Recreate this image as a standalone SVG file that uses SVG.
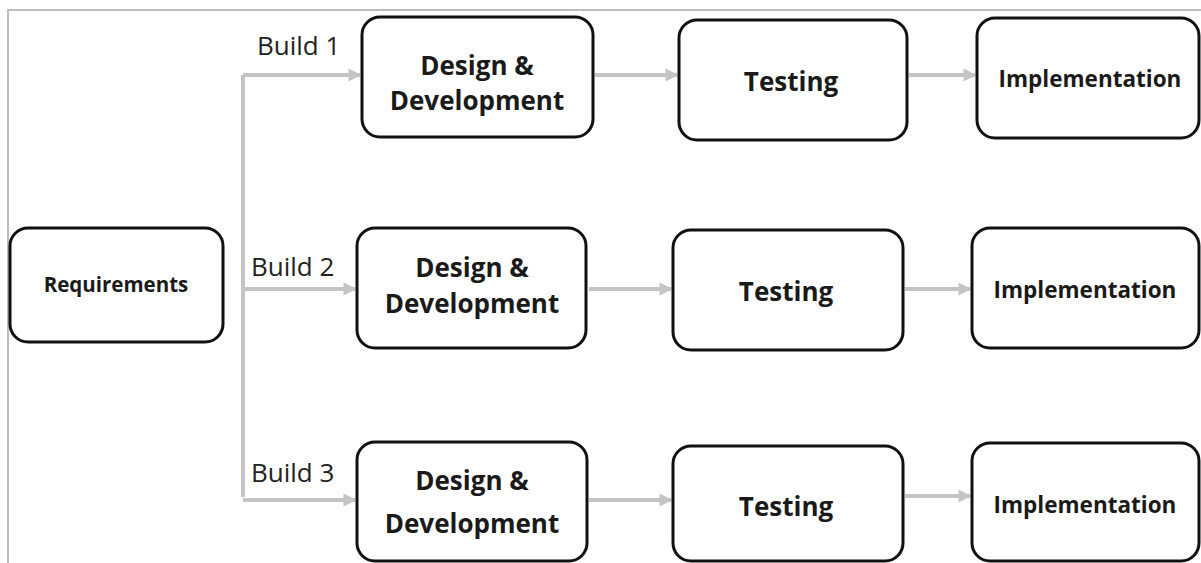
<svg xmlns="http://www.w3.org/2000/svg" width="1201" height="563" viewBox="0 0 1201 563">
<style>
.box{fill:#fff;stroke:#111;stroke-width:3}
.t{font-family:"Open Sans","Liberation Sans",sans-serif;font-weight:700;fill:#1a1a1a;text-anchor:middle}
.b{font-family:"Open Sans","Liberation Sans",sans-serif;font-weight:400;fill:#222;font-size:26px}
.c{fill:none;stroke:#c4c4c4;stroke-width:4}
</style>
<defs>
<marker id="ah" viewBox="0 0 10 10" refX="9" refY="5" markerWidth="3.2" markerHeight="3.6" orient="auto" markerUnits="strokeWidth">
<path d="M0,0 L10,5 L0,10 z" fill="#c4c4c4"/>
</marker>
</defs>
<rect x="0" y="0" width="1201" height="563" fill="#fff"/>
<path d="M8,563 V10 H1201" fill="none" stroke="#bdbdbd" stroke-width="2"/>
<g id="connectors">
<path class="c" d="M243,497 V75"/>
<path class="c" d="M243,75 H360" marker-end="url(#ah)"/>
<path class="c" d="M243,289 H355" marker-end="url(#ah)"/>
<path class="c" d="M243,500 H355" marker-end="url(#ah)"/>
<path class="c" d="M595,75 H677" marker-end="url(#ah)"/>
<path class="c" d="M909,75 H975" marker-end="url(#ah)"/>
<path class="c" d="M589,289 H671" marker-end="url(#ah)"/>
<path class="c" d="M905,289 H970" marker-end="url(#ah)"/>
<path class="c" d="M589,500 H671" marker-end="url(#ah)"/>
<path class="c" d="M905,496 H970" marker-end="url(#ah)"/>
</g>
<g id="labels">
<text class="b" x="257" y="55">Build 1</text>
<text class="b" x="251" y="276">Build 2</text>
<text class="b" x="251" y="482">Build 3</text>
</g>
<g id="requirements">
<rect class="box" x="10" y="228" width="213" height="114" rx="18"/>
<text class="t" x="116" y="292" font-size="20.5">Requirements</text>
</g>
<g id="design1">
<rect class="box" x="362" y="17" width="231" height="120" rx="18"/>
<text class="t" x="477" y="75" font-size="26">Design &amp;</text>
<text class="t" x="477" y="110" font-size="26">Development</text>
</g>
<g id="testing1">
<rect class="box" x="679" y="20" width="228" height="120" rx="18"/>
<text class="t" x="791" y="91" font-size="26">Testing</text>
</g>
<g id="impl1">
<rect class="box" x="977" y="18" width="222" height="120" rx="18"/>
<text class="t" x="1090" y="87" font-size="22.5">Implementation</text>
</g>
<g id="design2">
<rect class="box" x="357" y="228" width="229" height="120" rx="18"/>
<text class="t" x="472" y="277" font-size="26">Design &amp;</text>
<text class="t" x="472" y="313" font-size="26">Development</text>
</g>
<g id="testing2">
<rect class="box" x="673" y="230" width="230" height="120" rx="18"/>
<text class="t" x="786" y="301" font-size="26">Testing</text>
</g>
<g id="impl2">
<rect class="box" x="972" y="228" width="227" height="120" rx="18"/>
<text class="t" x="1085" y="298" font-size="22.5">Implementation</text>
</g>
<g id="design3">
<rect class="box" x="357" y="442" width="230" height="119" rx="18"/>
<text class="t" x="472" y="490" font-size="26">Design &amp;</text>
<text class="t" x="472" y="533" font-size="26">Development</text>
</g>
<g id="testing3">
<rect class="box" x="673" y="446" width="230" height="115" rx="18"/>
<text class="t" x="786" y="516" font-size="26">Testing</text>
</g>
<g id="impl3">
<rect class="box" x="972" y="443" width="227" height="118" rx="18"/>
<text class="t" x="1085" y="513" font-size="22.5">Implementation</text>
</g>
</svg>
